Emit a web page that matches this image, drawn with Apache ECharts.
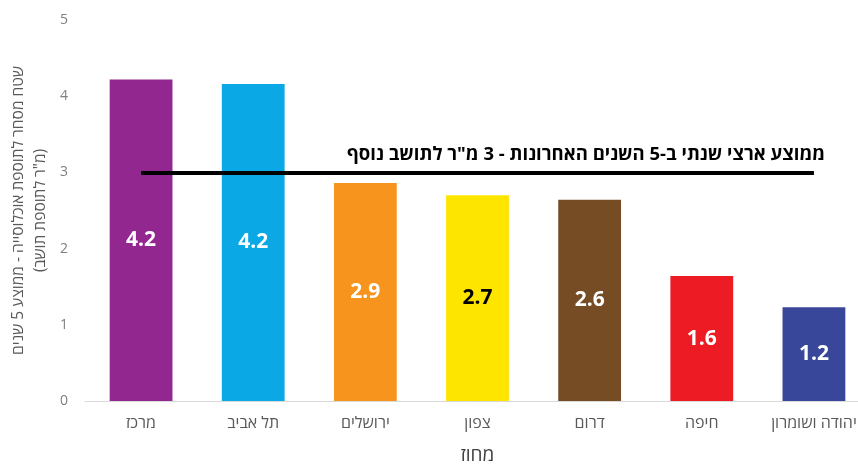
<!DOCTYPE html>
<html>
<head>
<meta charset="utf-8">
<script src="https://cdn.jsdelivr.net/npm/echarts@6/dist/echarts.min.js"></script>
<style>html,body{margin:0;padding:0;background:#fff}#c{width:858px;height:464px}</style>
</head>
<body>
<div id="c" dir="rtl"></div>
<script>
const categories = ['מרכז', 'תל אביב', 'ירושלים', 'צפון', 'דרום', 'חיפה', 'יהודה ושומרון'];
const values = [4.22, 4.16, 2.86, 2.70, 2.64, 1.64, 1.23];
const barColors = ['#92278f', '#0aa8e4', '#f7941d', '#fde500', '#754c24', '#ed1c24', '#39479a'];
const labelColors = ['#fff', '#fff', '#fff', '#000', '#fff', '#fff', '#fff'];
const yTicks = [0, 1, 2, 3, 4, 5];
const avgValue = 3;
const avgText = 'ממוצע ארצי שנתי ב-5 השנים האחרונות - 3 מ"ר לתושב נוסף';
const yName = 'שטח מסחר לתוספת אוכלוסייה - ממוצע 5 שנים\n(מ"ר לתוספת תושב)';
const xName = 'מחוז';

const font = '"Open Sans", "Liberation Sans", "DejaVu Sans", sans-serif';
const chart = echarts.init(document.getElementById('c'), null, {renderer: 'canvas'});
chart.setOption({
  animation: false,
  grid: {left: 85, width: 785, top: 20, height: 381, containLabel: false, outerBoundsMode: 'none'},
  xAxis: {
    type: 'category',
    data: categories,
    axisLine: {lineStyle: {color: '#d9d9d9', width: 1}},
    axisTick: {show: false},
    axisLabel: {color: '#595959', fontSize: 16, margin: 14, fontFamily: '"Liberation Sans Narrow", ' + font},
    name: xName,
    nameLocation: 'middle',
    nameGap: 45,
    nameMoveOverlap: false,
    nameTextStyle: {color: '#404040', fontSize: 19, fontFamily: '"Liberation Sans Narrow", ' + font}
  },
  yAxis: {
    type: 'value',
    min: yTicks[0],
    max: yTicks[yTicks.length - 1],
    interval: 1,
    splitLine: {show: false},
    axisLine: {show: false},
    axisTick: {show: false},
    axisLabel: {color: '#7f7f7f', fontSize: 14, margin: 17, fontFamily: font},
    name: yName,
    nameLocation: 'middle',
    nameRotate: 90,
    nameGap: 33,
    nameMoveOverlap: false,
    nameTextStyle: {color: '#595959', fontSize: 15.5, lineHeight: 22, fontFamily: font}
  },
  series: [{
    type: 'bar',
    barWidth: '56%',
    data: values.map((v, i) => ({
      value: v,
      itemStyle: {color: barColors[i]},
      label: {color: labelColors[i]}
    })),
    label: {
      show: true,
      position: 'inside',
      fontSize: 21,
      fontWeight: 'bold',
      fontFamily: font,
      formatter: p => p.value.toFixed(1)
    },
    markLine: {
      symbol: 'none',
      silent: true,
      lineStyle: {color: '#000', width: 4, type: 'solid'},
      label: {
        show: true,
        position: 'insideEndTop',
        formatter: avgText,
        color: '#000',
        fontSize: 18.5,
        fontWeight: 'bold',
        fontFamily: font,
        distance: [-11, 8]
      },
      data: [[{coord: [0, avgValue]}, {coord: [categories.length - 1, avgValue]}]]
    }
  }]
});
</script>
</body>
</html>
